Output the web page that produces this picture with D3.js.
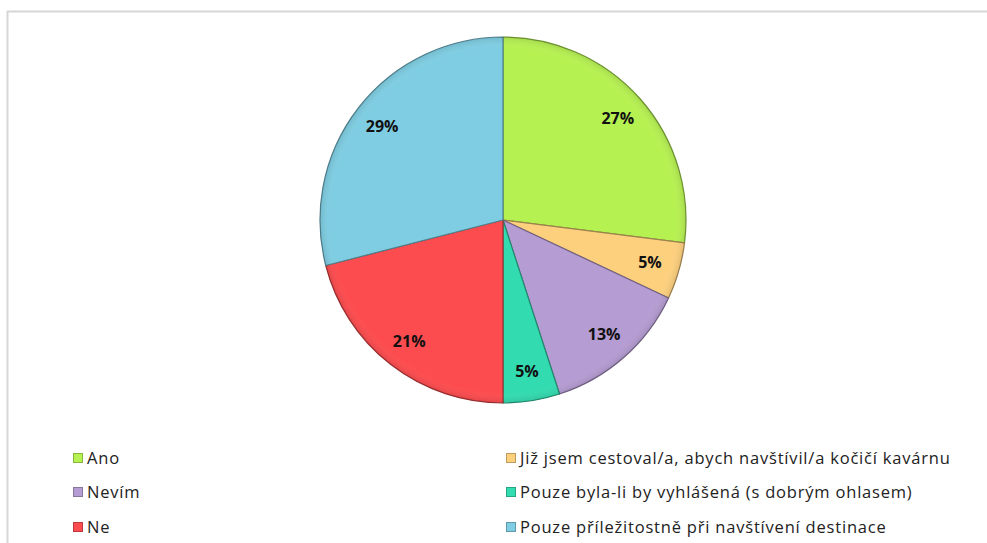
<!DOCTYPE html>
<html>
<head>
<meta charset="utf-8">
<script src="https://cdn.jsdelivr.net/npm/d3@7"></script>
<style>
  body { margin: 0; background: #fff; }
  svg { display: block; }
</style>
</head>
<body>
<script>
// Chart data
const categories = [
  'Ano',
  'Již jsem cestoval/a, abych navštívil/a kočičí kavárnu',
  'Nevím',
  'Pouze byla-li by vyhlášená (s dobrým ohlasem)',
  'Ne',
  'Pouze příležitostně při navštívení destinace'
];
const values = [27, 5, 13, 5, 21, 29];
const colors = ['#b6f152', '#fdd07e', '#b59cd2', '#33dbb0', '#fd4c4f', '#7fcde2'];

const width = 987;
const height = 543;

const svg = d3.select('body')
  .append('svg')
  .attr('width', width)
  .attr('height', height);

// Frame
svg.append('path')
  .attr('d', `M7.5,${height} V11.5 H${width}`)
  .attr('fill', 'none')
  .attr('stroke', '#d6d6d6')
  .attr('stroke-width', 2);

const cx = 503, cy = 220, radius = 183;

const data = categories.map((c, i) => ({ category: c, value: values[i], color: colors[i] }));

const pie = d3.pie()
  .sort(null)
  .value(d => d.value);

const arc = d3.arc()
  .innerRadius(0)
  .outerRadius(radius);

const labelArc = d3.arc()
  .innerRadius(153)
  .outerRadius(153);

const defs = svg.append('defs');

// soft bevel shading near the rim
const shade = defs.append('radialGradient')
  .attr('id', 'shade')
  .attr('gradientUnits', 'userSpaceOnUse')
  .attr('cx', 0).attr('cy', 0).attr('r', radius);
shade.append('stop').attr('offset', '0%').attr('stop-color', '#fff').attr('stop-opacity', 0);
shade.append('stop').attr('offset', '94%').attr('stop-color', '#fff').attr('stop-opacity', 0);
shade.append('stop').attr('offset', '100%').attr('stop-color', '#000').attr('stop-opacity', 0.1);

const g = svg.append('g')
  .attr('transform', `translate(${cx}, ${cy})`);

const slices = g.selectAll('g.slice')
  .data(pie(data))
  .enter()
  .append('g')
  .attr('class', 'slice');

slices.append('path')
  .attr('d', arc)
  .attr('fill', d => d.data.color)
  .attr('stroke', d => d3.color(d.data.color).darker(1.3))
  .attr('stroke-width', 1.2)
  .attr('stroke-linejoin', 'round');

g.append('circle')
  .attr('r', radius)
  .attr('fill', 'url(#shade)')
  .attr('pointer-events', 'none');

// Percent labels
g.selectAll('text.pct')
  .data(pie(data))
  .enter()
  .append('text')
  .attr('class', 'pct')
  .attr('transform', d => `translate(${labelArc.centroid(d)})`)
  .attr('text-anchor', 'middle')
  .attr('dy', '0.35em')
  .attr('font-family', 'Open Sans, sans-serif')
  .attr('font-weight', 'bold')
  .attr('font-size', '16px')
  .attr('fill', '#111')
  .text(d => d.data.value + '%');

// Legend: two columns, three rows
const legendCols = [73, 506];
const legendRows = [458, 492, 527];

const legend = svg.append('g')
  .selectAll('g')
  .data(categories)
  .enter()
  .append('g')
  .attr('transform', (d, i) => `translate(${legendCols[i % 2]}, ${legendRows[Math.floor(i / 2)]})`);

legend.append('rect')
  .attr('x', 0.5)
  .attr('y', -4.5)
  .attr('width', 9)
  .attr('height', 9)
  .attr('fill', (d, i) => colors[i])
  .attr('stroke', (d, i) => d3.color(colors[i]).darker(0.8))
  .attr('stroke-width', 1);

legend.append('text')
  .attr('x', 14)
  .attr('dy', '0.35em')
  .attr('font-family', 'Open Sans, sans-serif')
  .attr('font-size', '16.5px')
  .attr('letter-spacing', '0.8px')
  .attr('fill', '#222')
  .text(d => d);
</script>
</body>
</html>
